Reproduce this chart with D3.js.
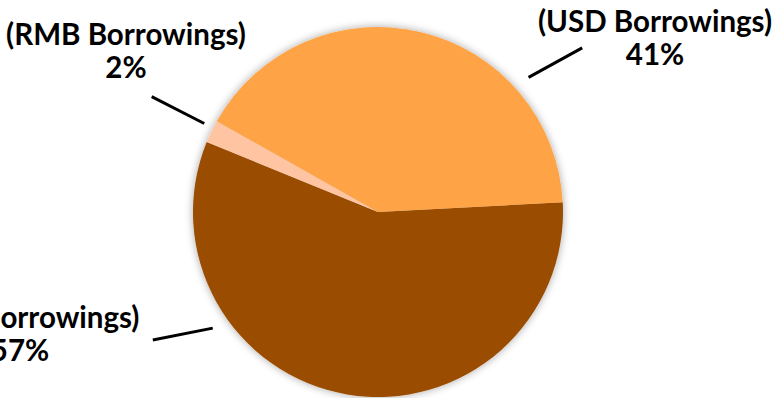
<!DOCTYPE html>
<html>
<head>
<meta charset="utf-8">
<script src="https://cdn.jsdelivr.net/npm/d3@7"></script>
<style>
	body {margin:0; background:#ffffff; overflow:hidden;}
	.PieLabel {font-family:Lato, "Open Sans", sans-serif; font-weight:bold; font-size:29.5px; fill:#000000;}
</style>
</head>
<body>
<div id="idPie"></div>
<script>
// chart data
var aCategories = ["(HKD Borrowings)", "(RMB Borrowings)", "(USD Borrowings)"];
var aShares = [57, 2, 41];
var aColors = ["#9a4d00", "#ffc4a2", "#fea447"];

// label layout: label centre offset from pie centre, leader line ends as [angle deg, radius]
var aLabelPos = [[-358, 116], [-252, -167], [277, -180]];
var aLeaders = [[[234.9, 202], [240.4, 259]], [[297, 195], [297, 254]], [[48.2, 202], [51.2, 262]]];

var iWidth = 773;
var iHeight = 398;
var iCx = 378;
var iCy = 212;
var iRadius = 185;
var iLineGap = 33;
var fStartAngle = 87 * Math.PI / 180;

var myCanvas = d3.select("#idPie").append("svg")
	.attr("width", iWidth)
	.attr("height", iHeight);

var myDefs = myCanvas.append("defs");
var myShadow = myDefs.append("filter")
	.attr("id", "idShadow")
	.attr("x", "-20%").attr("y", "-20%")
	.attr("width", "140%").attr("height", "140%");
myShadow.append("feGaussianBlur")
	.attr("in", "SourceAlpha")
	.attr("stdDeviation", 4)
	.attr("result", "blur");
myShadow.append("feComponentTransfer")
	.append("feFuncA").attr("type", "linear").attr("slope", 0.35);
var myMerge = myShadow.append("feMerge");
myMerge.append("feMergeNode");
myMerge.append("feMergeNode").attr("in", "SourceGraphic");

var myGraphics = myCanvas.append("g")
	.attr("transform", "translate(" + iCx + "," + iCy + ")");

var myPie = d3.pie()
	.sort(null)
	.startAngle(fStartAngle)
	.endAngle(fStartAngle + 2 * Math.PI)
	.value(function(d) { return d; });

var myArc = d3.arc()
	.innerRadius(0)
	.outerRadius(iRadius);

var mySlices = myPie(aShares);

var myPieGroup = myGraphics.append("g")
	.attr("filter", "url(#idShadow)");

myPieGroup.selectAll(".PieSlice")
	.data(mySlices)
	.enter().append("path")
		.attr("class", "PieSlice")
		.attr("d", myArc)
		.attr("fill", function(d, i) { return aColors[i]; });

function fPolar(aPt)
{
	var fA = aPt[0] * Math.PI / 180;
	return [Math.sin(fA) * aPt[1], -Math.cos(fA) * aPt[1]];
}

myGraphics.selectAll(".Leader")
	.data(aLeaders)
	.enter().append("line")
		.attr("class", "Leader")
		.attr("x1", function(d) { return fPolar(d[0])[0]; })
		.attr("y1", function(d) { return fPolar(d[0])[1]; })
		.attr("x2", function(d) { return fPolar(d[1])[0]; })
		.attr("y2", function(d) { return fPolar(d[1])[1]; })
		.attr("stroke", "#000000")
		.attr("stroke-width", 3);

var myLabels = myGraphics.selectAll(".PieLabel")
	.data(mySlices)
	.enter().append("text")
		.attr("class", "PieLabel")
		.attr("text-anchor", "middle")
		.attr("transform", function(d, i) { return "translate(" + aLabelPos[i][0] + "," + aLabelPos[i][1] + ")"; });

myLabels.append("tspan")
	.attr("x", 0)
	.attr("y", 0)
	.text(function(d, i) { return aCategories[i]; });

myLabels.append("tspan")
	.attr("x", 0)
	.attr("y", iLineGap)
	.text(function(d) { return d.data + "%"; });
</script>
</body>
</html>
